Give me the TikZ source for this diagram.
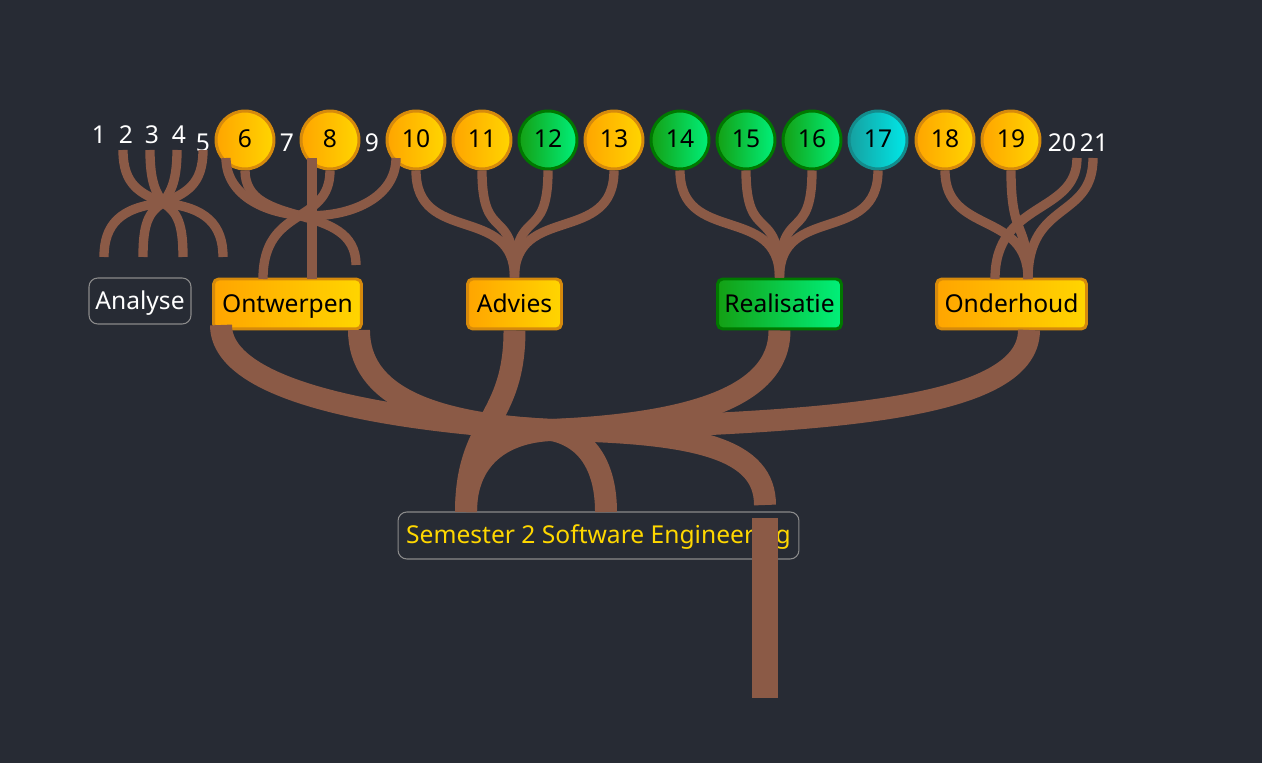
\documentclass[tikz,border=0pt]{standalone}
\usepackage{fontspec}
\setmainfont{Noto Sans}
\usetikzlibrary{shadings}

\definecolor{bg}{HTML}{272B34}
\definecolor{bark}{HTML}{8B5A46}
\definecolor{orA}{HTML}{FFA500}
\definecolor{orB}{HTML}{FFD500}
\definecolor{orLine}{HTML}{D68A0C}
\definecolor{grA}{HTML}{14A014}
\definecolor{grB}{HTML}{00F07A}
\definecolor{grLine}{HTML}{007800}
\definecolor{cyA}{HTML}{16A0A0}
\definecolor{cyB}{HTML}{00E8E8}
\definecolor{cyLine}{HTML}{138C8C}
\definecolor{frame}{HTML}{8A8A8A}
\definecolor{gold}{HTML}{FFD700}

\begin{document}
\begin{tikzpicture}[x=0.02cm,y=-0.02cm,
  font=\fontsize{14}{17}\selectfont,
  num/.style={text=white,inner sep=1pt},
  ball/.style={circle,minimum size=1.16cm,inner sep=0pt,line width=1.7pt,text height=0.8em,text depth=0pt},
  orange ball/.style={ball,draw=orLine,left color=orA,right color=orB},
  green ball/.style={ball,draw=grLine,left color=grA,right color=grB},
  cyan ball/.style={ball,draw=cyLine,left color=cyA,right color=cyB},
  phase/.style={rectangle,rounded corners=3pt,minimum height=1cm,inner sep=2pt,line width=1.7pt,text height=0.95em,text depth=0pt},
  orange phase/.style={phase,draw=orLine,left color=orA,right color=orB},
  green phase/.style={phase,draw=grLine,left color=grA,right color=grB},
  plain phase/.style={rectangle,rounded corners=5pt,draw=frame,line width=0.6pt,minimum height=0.92cm,inner sep=2pt,text height=0.95em,text depth=0pt},
  twig/.style={draw=bark,line width=5.3pt},
  limb/.style={draw=bark,line width=12.5pt}]

\fill[bg] (0,0) rectangle (1262,763);

% loose numbers
\node[num] (n1) at (99,135) {1};
\node[num] (n2) at (126,135) {2};
\node[num] (n3) at (152,135) {3};
\node[num] (n4) at (179,135) {4};
\node[num] (n5) at (203,143) {5};
\node[num] (n7) at (287,143) {7};
\node[num] (n9) at (372,143) {9};
\node[num] (n20) at (1062,143) {20};
\node[num] (n21) at (1094,143) {21};

% weeks
\node[orange ball] (c6) at (245,140) {6};
\node[orange ball] (c8) at (330,140) {8};
\node[orange ball] (c10) at (416,140) {10};
\node[orange ball] (c11) at (482,140) {11};
\node[green ball] (c12) at (548,140) {12};
\node[orange ball] (c13) at (614,140) {13};
\node[green ball] (c14) at (680,140) {14};
\node[green ball] (c15) at (746,140) {15};
\node[green ball] (c16) at (812,140) {16};
\node[cyan ball] (c17) at (878,140) {17};
\node[orange ball] (c18) at (945,140) {18};
\node[orange ball] (c19) at (1011,140) {19};

% phases
\node[plain phase,text=white,minimum width=2.04cm] (analyse) at (140,301) {Analyse};
\node[orange phase,minimum width=2.96cm] (ontwerpen) at (287.5,304) {Ontwerpen};
\node[orange phase,minimum width=1.88cm] (advies) at (514.5,304) {Advies};
\node[green phase,minimum width=2.48cm] (realisatie) at (779.5,304) {Realisatie};
\node[orange phase,minimum width=3.0cm] (onderhoud) at (1011.5,304) {Onderhoud};
\node[plain phase,text=gold,minimum width=8.02cm,minimum height=0.94cm] (semester) at (598.5,535.5) {Semester 2 Software Engineering};

% analyse knot
\coordinate (knotA) at (163,203);
\foreach \x/\c [count=\i] in {123/140,150/157,177/169,203/186}{
  \coordinate (top\i) at (\x,150);
  \draw[twig] (top\i) .. controls (\x,185) and (\c,193) .. (knotA);
}
\foreach \x/\c/\d [count=\i] in {104/120/207,143/148/212,183/178/212,223/206/207}{
  \coordinate (foot\i) at (\x,257);
  \draw[twig] (knotA) .. controls (\c,\d) and (\x,225) .. (foot\i);
}

% ontwerpen knot
\coordinate (o1) at (226,158);
\coordinate (o5) at (396,158);
\coordinate (oTop) at (312,158);
\coordinate (oBot) at (312,279);
\coordinate (oLeft) at (263,279);
\coordinate (oRight) at (356,265);
\draw[twig] (o1) .. controls (226,235) and (396,235) .. (o5);
\draw[twig] (c6.south) .. controls +(0,60) and +(0,-65) .. (oRight);
\draw[twig] (c8.south) .. controls +(0,55) and +(0,-74) .. (oLeft);
\draw[twig] (oTop) -- (oBot);

% advies and realisatie
\foreach \c in {c10,c11,c12,c13}
  \draw[twig] (\c.south) .. controls +(0,75) and +(0,-74) .. (advies.north);
\foreach \c in {c14,c15,c16,c17}
  \draw[twig] (\c.south) .. controls +(0,75) and +(0,-74) .. (realisatie.north);

% onderhoud knot
\coordinate (h20) at (1077,158);
\coordinate (h21) at (1093,158);
\coordinate (hLeft) at (995,279);
\coordinate (hRight) at (1028,279);
\draw[twig] (c18.south) .. controls +(0,65) and +(0,-69) .. (hRight);
\draw[twig] (c19.south) .. controls +(0,70) and +(0,-59) .. (hRight);
\draw[twig] (h20) .. controls +(0,57) and +(0,-79) .. (hLeft);
\draw[twig] (h21) .. controls +(0,62) and +(0,-79) .. (hRight);

% big knot
\coordinate (knotB) at (552,430);
\coordinate (ontL) at (221,325);
\coordinate (ontR) at (359,330);
\coordinate (ondR) at (1029,330);
\coordinate (rootL) at (466,512);
\coordinate (rootM) at (606,512);
\coordinate (rootR) at (765,505);
\draw[limb] (ontL) .. controls (221,395) and (400,422) .. (knotB);
\draw[limb] (ontR) .. controls (359,395) and (430,424) .. (knotB);
\draw[limb] (realisatie.south) .. controls +(0,70) and (680,424) .. (knotB);
\draw[limb] (ondR) .. controls +(0,85) and (800,422) .. (knotB);
\draw[limb] (advies.south) .. controls +(0,91) and +(0,-91) .. (rootL);
\draw[limb] (knotB) .. controls (500,432) and (466,460) .. (rootL);
\draw[limb] (knotB) .. controls (590,438) and (606,470) .. (rootM);
\draw[limb] (knotB) .. controls (700,432) and (765,450) .. (rootR);

% trunk
\fill[bark] (752,518) rectangle (778,698);
\end{tikzpicture}
\end{document}
